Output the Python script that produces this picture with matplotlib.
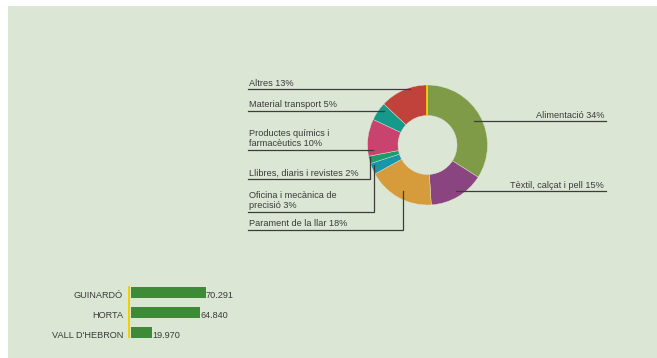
import matplotlib
matplotlib.use("Agg")
import matplotlib.pyplot as plt
from matplotlib.patches import Rectangle
from matplotlib import font_manager

# sectors of the donut, clockwise from the top
SECTORS = [
    "Alimentació",
    "Tèxtil, calçat i pell",
    "Parament de la llar",
    "Oficina i mecànica de\nprecisió",
    "Llibres, diaris i revistes",
    "Productes químics i\nfarmacèutics",
    "Material transport",
    "Altres",
]
SHARES = [34, 15, 18, 3, 2, 10, 5, 13]
SECTOR_COLORS = [
    "#809b47", "#8a4580", "#d69c3c", "#1795a9",
    "#1b9c6c", "#c9436f", "#14998a", "#c1423b",
]

DISTRICTS = ["GUINARDÓ", "HORTA", "VALL D'HEBRON"]
POPULATION = [70291, 64840, 19970]

W, H = 657, 358
BG = "#dce6d5"
TXT = "#3a3a3a"
LINE = "#3c3c3c"

names = {f.name for f in font_manager.fontManager.ttflist}
FONT = ["Liberation Sans Narrow", "DejaVu Sans"] if "Liberation Sans Narrow" in names else ["Liberation Sans", "DejaVu Sans"]
plt.rcParams["font.family"] = FONT

# leader layout per sector: side, underline y (px from top), inner x, elbow y
LEADERS = [
    ("right", 121, 474, None),
    ("right", 191, 456, None),
    ("left", 230, 403, 190.5),
    ("left", 211.5, 374, 165),
    ("left", 179, 370, 157),
    ("left", 150, 373, None),
    ("left", 110.5, 384, None),
    ("left", 89, 410, None),
]


def fy(y):
    return H - y


fig = plt.figure(figsize=(W / 100, H / 100), dpi=100, facecolor="white")
fig.patches.append(Rectangle((8 / W, 0), 1, (H - 6) / H, transform=fig.transFigure,
                             facecolor=BG, edgecolor="none", zorder=-10))

ax = fig.add_axes([0, 0, 1, 1])
ax.patch.set_visible(False)
cx, cy, r = 427.5, fy(145), 60
ax.pie(SHARES, colors=SECTOR_COLORS, startangle=90, counterclock=False,
       radius=r, center=(cx, cy),
       wedgeprops=dict(width=30.5, edgecolor=BG, linewidth=0.3))
# thin yellow mark at the start of the ring
ax.plot([cx - 0.8, cx - 0.8], [cy + r - 30.5, cy + r], color="#f3d000", lw=1.3,
        solid_capstyle="butt", zorder=5)
ax.set_xlim(0, W)
ax.set_ylim(0, H)
ax.set_aspect("auto")
ax.axis("off")

for name, share, (side, ly, ix, ey) in zip(SECTORS, SHARES, LEADERS):
    label = f"{name} {share}%"
    if side == "left":
        xs, ys = [248, ix], [fy(ly), fy(ly)]
        if ey is not None:
            xs.append(ix)
            ys.append(fy(ey))
        ax.plot(xs, ys, color=LINE, lw=0.9, solid_joinstyle="miter", zorder=6)
        ax.text(249, fy(ly) + 1.5, label, ha="left", va="bottom", fontsize=6.6,
                color=TXT, linespacing=1.2)
    else:
        ax.plot([ix, 606], [fy(ly), fy(ly)], color=LINE, lw=0.9, zorder=6)
        ax.text(604, fy(ly) + 1.5, label, ha="right", va="bottom", fontsize=6.6,
                color=TXT)

# district bar chart
px_per_unit = 1.063 / 1000
left_px, width_px = 128, 160
bx = fig.add_axes([left_px / W, (H - 342) / H, width_px / W, 60 / H])
x0 = -3 / px_per_unit
bx.set_xlim(x0, x0 + width_px / px_per_unit)
bx.set_ylim(2.5, -0.5)
bx.axis("off")
ypos = range(len(DISTRICTS))
bx.barh(ypos, POPULATION, height=0.55, color="#3e8b37", left=0)
bx.axvline(-2.3 / px_per_unit, ymin=5 / 60, ymax=55 / 60, color="#f0d000", lw=1.4)
for i, (name, val) in enumerate(zip(DISTRICTS, POPULATION)):
    bx.text(-8 / px_per_unit, i + 0.28, name, ha="right", va="baseline",
            fontsize=6.6, color=TXT)
    bx.text(val + 0.3 / px_per_unit, i + 0.28, f"{val:,}".replace(",", "."),
            ha="left", va="baseline", fontsize=6.6, color=TXT)

fig.savefig("out.png", dpi=100, facecolor="white")
